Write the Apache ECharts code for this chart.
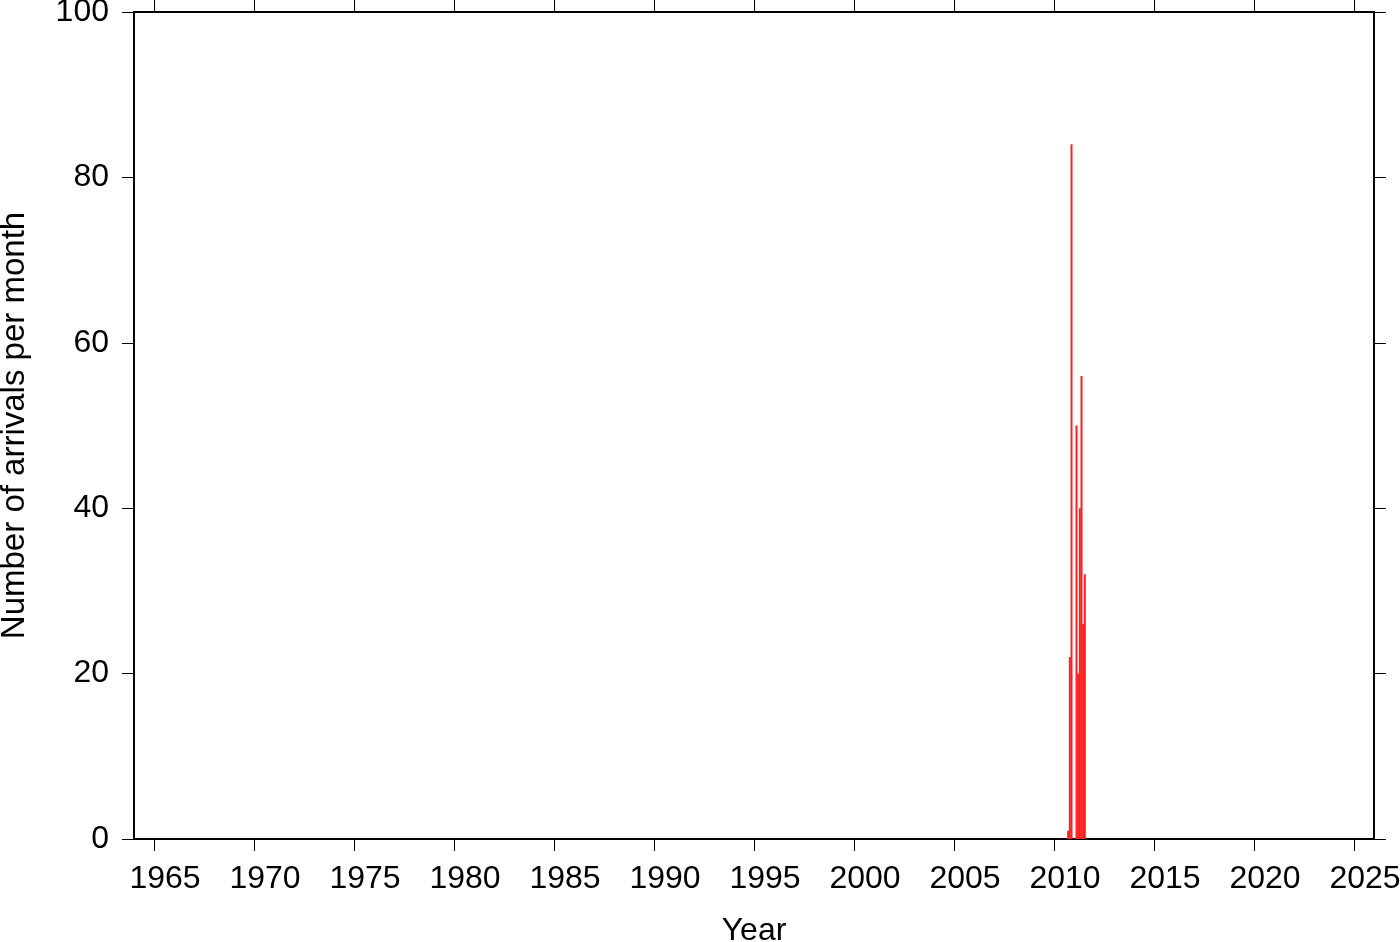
<!DOCTYPE html>
<html>
<head>
<meta charset="utf-8">
<script src="https://cdn.jsdelivr.net/npm/echarts@6/dist/echarts.min.js"></script>
<style>
html,body{margin:0;padding:0;background:#fff;}
#chart{width:1400px;height:942px;}
</style>
</head>
<body>
<div id="chart"></div>
<script>
// Monthly arrival counts (only non-empty period shown; all other months are 0)
const months = ['2010-09','2010-10','2010-11','2010-12','2011-01','2011-02','2011-03','2011-04','2011-05','2011-06','2011-07'];
const counts = [1, 22, 84, 0, 0, 50, 20, 40, 56, 26, 32];
const xTicks = [1965,1970,1975,1980,1985,1990,1995,2000,2005,2010,2015,2020,2025];
const yTicks = [0,20,40,60,80,100];

const xMin = 1964, xMax = 2026;
const yMin = 0, yMax = 100;

function monthCenter(s){
  const [y,m] = s.split('-').map(Number);
  return y + (m-1)/12 + 1/24;
}
const barData = months.map((m,i)=>[monthCenter(m), counts[i]]);

const FONT = "'Liberation Sans', Arial, Helvetica, sans-serif";
const lineStyle = {color:'#000', width:2};
const tickStyle = {color:'#000', width:1};

const chart = echarts.init(document.getElementById('chart'), null, {renderer:'canvas'});
chart.setOption({
  animation:false,
  backgroundColor:'#fff',
  grid:{left:134, right:26, top:12, bottom:103, containLabel:false, outerBoundsMode:'none'},
  xAxis:[{
    type:'value', min:xMin, max:xMax, position:'bottom',
    name:'Year', nameLocation:'middle', nameGap:76,
    nameTextStyle:{fontFamily:FONT, fontSize:32, color:'#000'},
    axisLine:{show:true, lineStyle:lineStyle, onZero:false},
    axisTick:{show:true, inside:false, length:12, lineStyle:tickStyle, customValues:xTicks},
    axisLabel:{show:true, margin:24, fontFamily:FONT, fontSize:32, color:'#000',
      customValues:xTicks.map(v=>v+0.55), formatter:v=>String(Math.floor(v))},
    splitLine:{show:false}
  },{
    type:'value', min:xMin, max:xMax, position:'top',
    axisLine:{show:true, lineStyle:lineStyle, onZero:false},
    axisTick:{show:true, inside:false, length:12, lineStyle:tickStyle, customValues:xTicks},
    axisLabel:{show:false},
    splitLine:{show:false}
  }],
  yAxis:[{
    type:'value', min:yMin, max:yMax, position:'left',
    name:'Number of arrivals per month', nameLocation:'middle', nameGap:103,
    nameTextStyle:{fontFamily:FONT, fontSize:33, color:'#000'},
    axisLine:{show:true, lineStyle:lineStyle, onZero:false},
    axisTick:{show:true, inside:false, length:12, lineStyle:tickStyle, customValues:yTicks},
    axisLabel:{show:true, margin:25, fontFamily:FONT, fontSize:32, color:'#000', customValues:yTicks},
    splitLine:{show:false}
  },{
    type:'value', min:yMin, max:yMax, position:'right',
    axisLine:{show:true, lineStyle:lineStyle, onZero:false},
    axisTick:{show:true, inside:false, length:12, lineStyle:tickStyle, customValues:yTicks},
    axisLabel:{show:false},
    splitLine:{show:false}
  }],
  series:[{
    type:'bar', xAxisIndex:0, yAxisIndex:0,
    data:barData, barWidth:2,
    itemStyle:{color:'#ff2020'},
    silent:true
  }]
});
</script>
</body>
</html>
